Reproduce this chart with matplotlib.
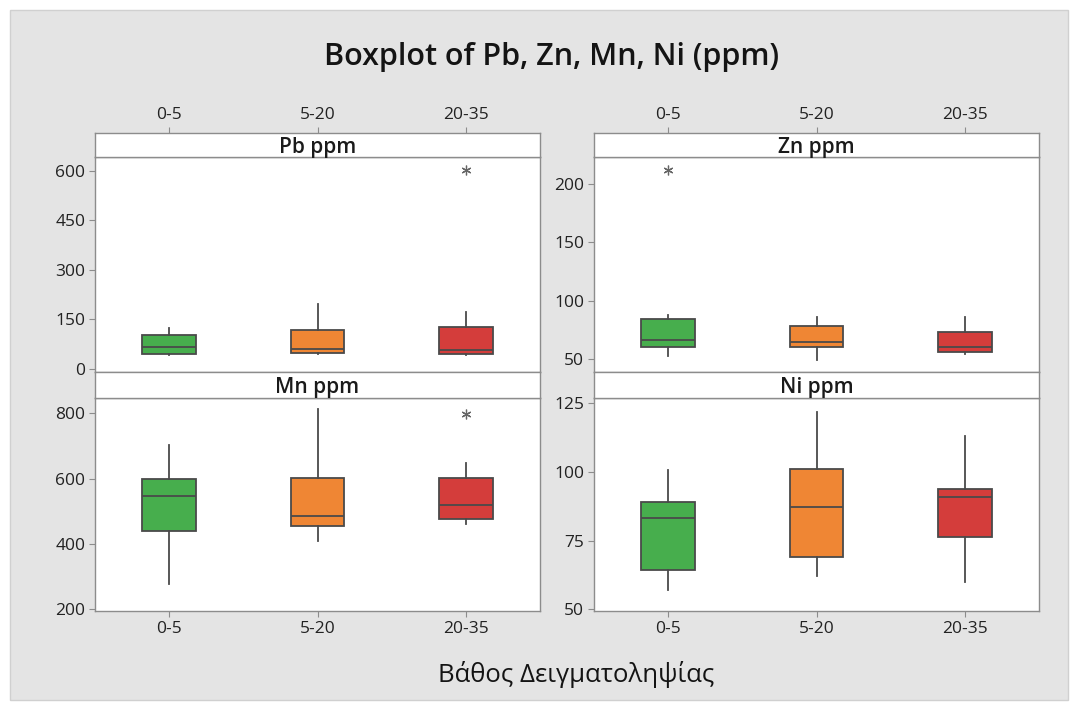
import matplotlib.pyplot as plt
from matplotlib.patches import Rectangle

plt.rcParams['font.family'] = ['Open Sans', 'DejaVu Sans']

# sampling depth classes
depths = ["0-5", "5-20", "20-35"]
box_colors = ["#47ae4d", "#ef8634", "#d43d3b"]

# boxplot summaries, per depth class
pb_q1 = [44, 50, 44]
pb_med = [67, 60, 57]
pb_q3 = [103, 118, 128]
pb_lo = [42, 45, 42]
pb_hi = [125, 197, 174]
pb_out = [[], [], [603]]

zn_q1 = [60.5, 60.5, 55.7]
zn_med = [66, 64.5, 60.8]
zn_q3 = [84.5, 78.2, 73.6]
zn_lo = [52.8, 49.4, 54.3]
zn_hi = [88, 86, 86]
zn_out = [[211.5], [], []]

mn_q1 = [439, 456, 477]
mn_med = [547, 486, 519]
mn_q3 = [598, 603, 603]
mn_lo = [277, 409, 460]
mn_hi = [703, 812, 649]
mn_out = [[], [], [797]]

ni_q1 = [64.4, 69.1, 76.4]
ni_med = [83.1, 87.3, 90.8]
ni_q3 = [89.2, 101, 93.9]
ni_lo = [57, 62.2, 59.8]
ni_hi = [100.7, 121.9, 113.2]
ni_out = [[], [], []]

W, H = 1076, 704


def fig_rect(x0, y0, x1, y1):
    # pixel box (top-left origin) -> figure fraction
    return [x0 / W, 1 - y1 / H, (x1 - x0) / W, (y1 - y0) / H]


def make_stats(q1, med, q3, lo, hi, out):
    stats = []
    for i in range(len(q1)):
        stats.append({'q1': q1[i], 'med': med[i], 'q3': q3[i],
                      'whislo': lo[i], 'whishi': hi[i], 'fliers': out[i]})
    return stats


def style_ticks(ax):
    ax.tick_params(colors='#8c8c8c', labelcolor='#222222', labelsize=12.5,
                   length=4, width=0.8, pad=3)
    for sp in ax.spines.values():
        sp.set_color('#8c8c8c')
        sp.set_linewidth(1.0)


def draw_panel(fig, px, py, strip_title, stats, yticks, ylim, top_labels, bottom_labels):
    x0, x1 = px
    s0, s1, y1 = py
    ax = fig.add_axes(fig_rect(x0, s1, x1, y1))
    bp = ax.bxp(stats, positions=[1, 2, 3], widths=0.36, patch_artist=True,
                showcaps=False,
                medianprops=dict(color='#4a4a4a', lw=1.3),
                whiskerprops=dict(color='#4a4a4a', lw=1.3),
                boxprops=dict(edgecolor='#4a4a4a', lw=1.3),
                flierprops=dict(marker=(6, 2, 0), markersize=7,
                                markeredgecolor='#666666', markerfacecolor='none',
                                markeredgewidth=0.9))
    for patch, c in zip(bp['boxes'], box_colors):
        patch.set_facecolor(c)
    ax.set_xlim(0.5, 3.5)
    ax.set_ylim(*ylim)
    ax.set_yticks(yticks)
    ax.set_xticks([1, 2, 3])
    if bottom_labels:
        ax.set_xticklabels(depths)
    else:
        ax.tick_params(axis='x', bottom=False, labelbottom=False)
    style_ticks(ax)

    # strip with panel title
    st = fig.add_axes(fig_rect(x0, s0, x1, s1))
    st.set_facecolor('white')
    st.set_xlim(0.5, 3.5)
    st.set_yticks([])
    if top_labels:
        st.set_xticks([1, 2, 3])
        st.set_xticklabels(depths)
        st.tick_params(axis='x', top=True, labeltop=True, bottom=False, labelbottom=False)
    else:
        st.set_xticks([])
    style_ticks(st)
    st.text(0.5, 0.40, strip_title, transform=st.transAxes, ha='center', va='center',
            fontsize=15, color='#1a1a1a', fontweight='semibold')
    return ax


fig = plt.figure(figsize=(W / 100, H / 100), dpi=100, facecolor='white')
fig.patches.append(Rectangle((10 / W, 1 - 700 / H), 1058 / W, 690 / H,
                             transform=fig.transFigure, facecolor='#e4e4e4',
                             edgecolor='#d0d0d0', lw=1, zorder=-10))

left_x = (95, 540)
right_x = (594, 1039)
top_y = (133, 157, 372)
bot_y = (372, 398, 611)

draw_panel(fig, left_x, top_y, "Pb ppm", make_stats(pb_q1, pb_med, pb_q3, pb_lo, pb_hi, pb_out),
           [0, 150, 300, 450, 600], (-9, 642), True, False)
draw_panel(fig, right_x, top_y, "Zn ppm", make_stats(zn_q1, zn_med, zn_q3, zn_lo, zn_hi, zn_out),
           [50, 100, 150, 200], (39, 223), True, False)
draw_panel(fig, left_x, bot_y, "Mn ppm", make_stats(mn_q1, mn_med, mn_q3, mn_lo, mn_hi, mn_out),
           [200, 400, 600, 800], (195, 847), False, True)
draw_panel(fig, right_x, bot_y, "Ni ppm", make_stats(ni_q1, ni_med, ni_q3, ni_lo, ni_hi, ni_out),
           [50, 75, 100, 125], (49.4, 127), False, True)

fig.text(552 / W, 1 - 57 / H, "Boxplot of Pb, Zn, Mn, Ni (ppm)", ha='center', va='center',
         fontsize=22, color='#141414', fontweight='semibold')
fig.text(576 / W, 1 - 675 / H, "Βάθος Δειγματοληψίας", ha='center', va='center',
         fontsize=18.5, color='#141414')

fig.savefig('out.png', dpi=100, facecolor=fig.get_facecolor())
